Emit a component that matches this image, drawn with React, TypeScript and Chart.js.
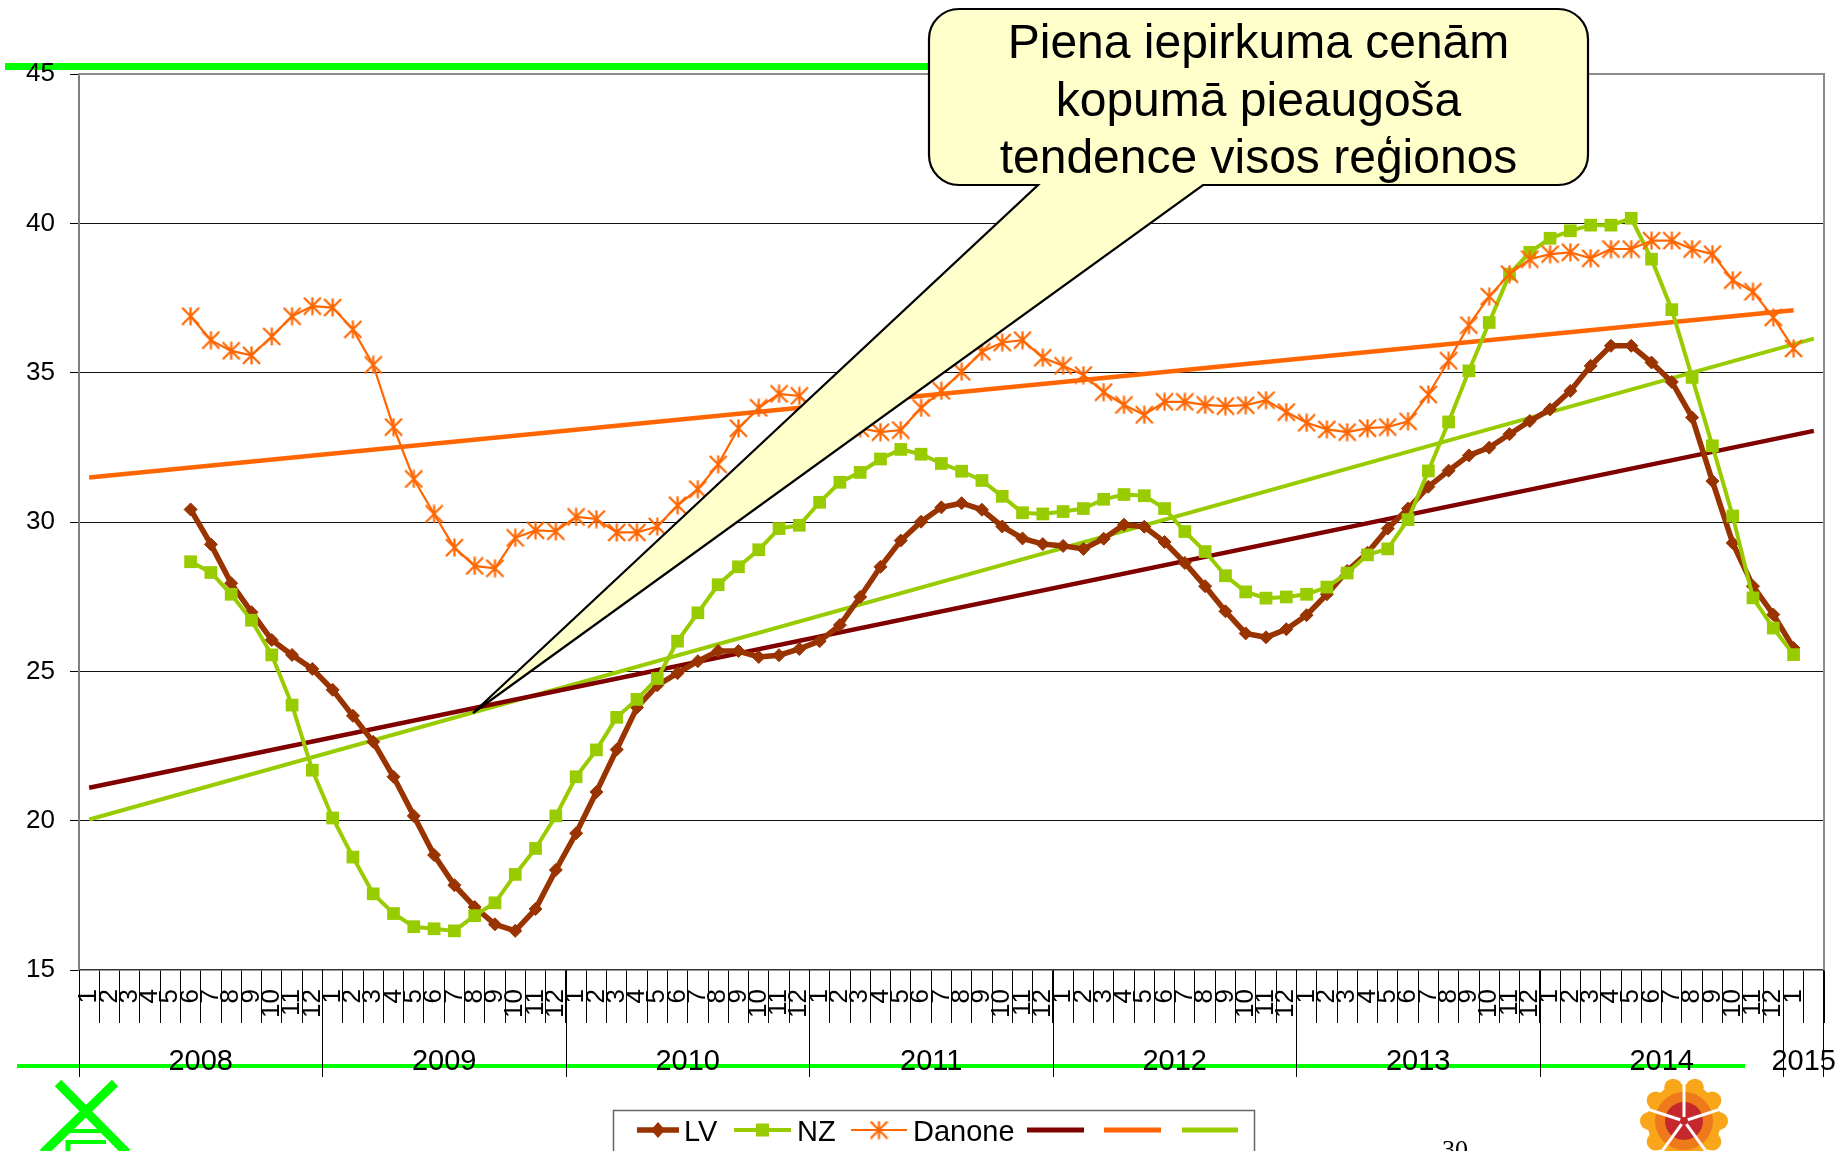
import React, { useEffect, useRef } from 'react';
import { Chart, registerables } from 'chart.js';

Chart.register(...registerables);

const FONT = '"Liberation Sans", Arial, Helvetica, sans-serif';
const W = 1837;
const H = 1151;

// ---- categories / tick labels ----
const years = ['2008', '2009', '2010', '2011', '2012', '2013', '2014', '2015'];
const yearMonthCounts = [12, 12, 12, 12, 12, 12, 12, 2];
const monthNames = ['1', '2', '3', '4', '5', '6', '7', '8', '9', '10', '11', '12'];
const months: string[] = [];
for (let y = 0; y < 7; y++) months.push(...monthNames);
months.push('1', '');

// ---- series values (2008-01 .. 2015-02) ----
const lv: (number | null)[] = [
  null, null, null, null, null,
  30.42, 29.25, 27.95, 26.98, 26.05, 25.55, 25.08, 24.38, 23.51, 22.64,
  21.47, 20.16, 18.85, 17.84, 17.11, 16.53, 16.31, 17.04, 18.35, 19.58,
  20.96, 22.38, 23.79, 24.53, 24.94, 25.34, 25.68, 25.68, 25.48, 25.54,
  25.75, 26.01, 26.55, 27.49, 28.5, 29.38, 30.01, 30.49, 30.63, 30.41,
  29.85, 29.45, 29.26, 29.2, 29.1, 29.44, 29.91, 29.84, 29.33, 28.63,
  27.85, 27.01, 26.27, 26.14, 26.41, 26.88, 27.58, 28.36, 28.97, 29.78,
  30.45, 31.18, 31.72, 32.23, 32.49, 32.94, 33.38, 33.77, 34.39, 35.23,
  35.9, 35.9, 35.34, 34.69, 33.5, 31.37, 29.3, 27.85, 26.9, 25.78,
  null,
];
const nz: (number | null)[] = [
  null, null, null, null, null,
  28.67, 28.31, 27.58, 26.71, 25.55, 23.87, 21.69, 20.09, 18.78, 17.55,
  16.89, 16.45, 16.38, 16.31, 16.82, 17.25, 18.2, 19.07, 20.16, 21.47,
  22.37, 23.46, 24.06, 24.76, 26.01, 26.96, 27.9, 28.5, 29.07, 29.78,
  29.89, 30.66, 31.33, 31.66, 32.11, 32.43, 32.27, 31.96, 31.7, 31.39,
  30.86, 30.31, 30.27, 30.35, 30.45, 30.76, 30.92, 30.88, 30.45, 29.68,
  29.01, 28.2, 27.66, 27.45, 27.49, 27.58, 27.82, 28.29, 28.9, 29.1,
  30.08, 31.71, 33.35, 35.06, 36.68, 38.3, 39.03, 39.5, 39.75, 39.94,
  39.94, 40.17, 38.8, 37.11, 34.84, 32.55, 30.2, 27.46, 26.45, 25.56,
  null,
];
const danone: (number | null)[] = [
  null, null, null, null, null,
  36.89, 36.09, 35.73, 35.58, 36.21, 36.89, 37.23, 37.18, 36.45, 35.26,
  33.18, 31.44, 30.27, 29.14, 28.53, 28.45, 29.47, 29.72, 29.69, 30.17,
  30.1, 29.65, 29.65, 29.85, 30.56, 31.1, 31.93, 33.14, 33.82, 34.29,
  34.22, 33.6, 33.3, 33.14, 33.01, 33.08, 33.82, 34.39, 35.03, 35.7,
  36.01, 36.09, 35.5, 35.23, 34.92, 34.35, 33.92, 33.59, 34.02, 34.02,
  33.92, 33.88, 33.91, 34.08, 33.68, 33.32, 33.1, 33.01, 33.14, 33.18,
  33.37, 34.27, 35.4, 36.59, 37.55, 38.3, 38.8, 38.97, 39.03, 38.83,
  39.14, 39.14, 39.42, 39.42, 39.14, 38.97, 38.1, 37.71, 36.85, 35.81,
  null,
];

// ---- linear trend lines: [start, end] values and category indices ----
const lvTrend = [21.1, 33.05];
const lvTrendIdx = [0, 85];
const danoneTrend = [31.49, 37.09];
const danoneTrendIdx = [0, 84];
const nzTrend = [20.04, 36.14];
const nzTrendIdx = [0, 85];

const C_LV = '#993300';
const C_NZ = '#99CC00';
const C_DAN = '#FF6600';
const C_TLV = '#800000';

function trendData(vals: number[], idx: number[]) {
  return months.map((_, i) => (i === idx[0] ? vals[0] : i === idx[1] ? vals[1] : null));
}

function makeStar(color: string, size: number, lw: number) {
  const c = document.createElement('canvas');
  c.width = size;
  c.height = size;
  const g = c.getContext('2d')!;
  g.strokeStyle = color;
  g.lineWidth = lw;
  const m = size / 2;
  const r = size / 2 - 1;
  g.beginPath();
  g.moveTo(m, m - r - 0.5);
  g.lineTo(m, m + r + 0.5);
  g.moveTo(m - r, m - r);
  g.lineTo(m + r, m + r);
  g.moveTo(m + r, m - r);
  g.lineTo(m - r, m + r);
  g.stroke();
  return c;
}

export default function App() {
  const ref = useRef<HTMLCanvasElement>(null);

  useEffect(() => {
    const canvas = ref.current!;
    const star = makeStar(C_DAN, 19, 2.2);

    const decor = {
      id: 'decor',
      beforeDraw(chart: any) {
        const ctx = chart.ctx;
        ctx.save();
        ctx.fillStyle = '#00FF00';
        ctx.fillRect(5, 63, 1000, 7);
        ctx.fillRect(17, 1064, 1728, 4);
        ctx.restore();
      },
      afterDraw(chart: any) {
        const ctx = chart.ctx as CanvasRenderingContext2D;
        const area = chart.chartArea;
        const xs = chart.scales.x;
        const cw = (area.right - area.left) / months.length;
        const bound = (i: number) => xs.getPixelForValue(i) - cw / 2;
        ctx.save();

        // plot border top / right
        ctx.strokeStyle = '#8c8c8c';
        ctx.lineWidth = 2;
        ctx.beginPath();
        ctx.moveTo(area.left, area.top);
        ctx.lineTo(area.right, area.top);
        ctx.lineTo(area.right, area.bottom);
        ctx.stroke();

        // year separators and labels
        ctx.strokeStyle = '#000';
        ctx.lineWidth = 1;
        let start = 0;
        ctx.font = `29px ${FONT}`;
        ctx.fillStyle = '#000';
        ctx.textAlign = 'center';
        ctx.textBaseline = 'alphabetic';
        years.forEach((yr, k) => {
          const x0 = bound(start);
          const end = start + yearMonthCounts[k];
          const x1 = end >= months.length ? area.right : bound(end);
          ctx.beginPath();
          ctx.moveTo(Math.round(x0) + 0.5, area.bottom);
          ctx.lineTo(Math.round(x0) + 0.5, 1077);
          ctx.stroke();
          if (end >= months.length) {
            ctx.beginPath();
            ctx.moveTo(Math.round(x1) - 0.5, area.bottom);
            ctx.lineTo(Math.round(x1) - 0.5, 1077);
            ctx.stroke();
          }
          ctx.fillText(yr, (x0 + x1) / 2, 1070);
          start = end;
        });

        // legend
        const ly = 1130;
        ctx.fillStyle = '#fff';
        ctx.fillRect(613, 1110, 642, 60);
        ctx.strokeStyle = '#666';
        ctx.lineWidth = 1.5;
        ctx.strokeRect(613.5, 1110.5, 641, 60);
        const seg = (x0: number, x1: number, color: string, lw: number) => {
          ctx.strokeStyle = color;
          ctx.lineWidth = lw;
          ctx.beginPath();
          ctx.moveTo(x0, ly);
          ctx.lineTo(x1, ly);
          ctx.stroke();
        };
        seg(637, 679, C_LV, 5.5);
        ctx.fillStyle = C_LV;
        ctx.beginPath();
        ctx.moveTo(658, ly - 8);
        ctx.lineTo(665, ly);
        ctx.lineTo(658, ly + 8);
        ctx.lineTo(651, ly);
        ctx.closePath();
        ctx.fill();
        seg(734, 791, C_NZ, 4);
        ctx.fillStyle = C_NZ;
        ctx.fillRect(756, ly - 6.5, 13, 13);
        seg(851, 907, C_DAN, 2.2);
        ctx.drawImage(star, 879 - 9.5, ly - 9.5);
        seg(1027, 1084, C_TLV, 5);
        seg(1104, 1161, C_DAN, 5);
        seg(1182, 1238, C_NZ, 5);
        ctx.fillStyle = '#000';
        ctx.font = `29px ${FONT}`;
        ctx.textAlign = 'left';
        ctx.textBaseline = 'alphabetic';
        ctx.fillText('LV', 684, 1141);
        ctx.fillText('NZ', 797, 1141);
        ctx.fillText('Danone', 913, 1141);

        // green logo (bottom left)
        ctx.strokeStyle = '#00FF00';
        ctx.lineCap = 'butt';
        ctx.lineWidth = 9;
        ctx.beginPath();
        ctx.moveTo(58, 1083);
        ctx.lineTo(127, 1153);
        ctx.moveTo(115, 1083);
        ctx.lineTo(43, 1153);
        ctx.stroke();
        ctx.lineWidth = 4;
        ctx.beginPath();
        ctx.moveTo(66, 1131);
        ctx.lineTo(108, 1131);
        ctx.moveTo(68, 1142);
        ctx.lineTo(106, 1142);
        ctx.stroke();
        ctx.lineWidth = 5;
        ctx.beginPath();
        ctx.moveTo(68, 1140);
        ctx.lineTo(68, 1152);
        ctx.stroke();

        // orange logo (bottom right)
        const cx = 1684, cy = 1121;
        ctx.fillStyle = '#F9A61A';
        for (let k = 0; k < 10; k++) {
          const a = -Math.PI / 2 + (k * Math.PI) / 5 + Math.PI / 10;
          ctx.beginPath();
          ctx.arc(cx + Math.cos(a) * 35, cy + Math.sin(a) * 35, 9, 0, Math.PI * 2);
          ctx.fill();
        }
        ctx.beginPath();
        ctx.arc(cx, cy, 37, 0, Math.PI * 2);
        ctx.fill();
        ctx.fillStyle = '#EE7A1C';
        ctx.beginPath();
        ctx.arc(cx, cy, 29, 0, Math.PI * 2);
        ctx.fill();
        ctx.fillStyle = '#C4282C';
        ctx.beginPath();
        ctx.arc(cx, cy, 19, 0, Math.PI * 2);
        ctx.fill();
        ctx.strokeStyle = '#fff';
        ctx.lineWidth = 3;
        for (let k = 0; k < 5; k++) {
          const a = -Math.PI / 2 + (k * 2 * Math.PI) / 5;
          ctx.beginPath();
          ctx.moveTo(cx + Math.cos(a) * 4, cy + Math.sin(a) * 4);
          ctx.lineTo(cx + Math.cos(a) * 40, cy + Math.sin(a) * 40);
          ctx.stroke();
        }

        // page number
        ctx.fillStyle = '#000';
        ctx.font = '26px "Liberation Serif", "Times New Roman", serif';
        ctx.textAlign = 'left';
        ctx.fillText('30', 1442, 1158);

        // callout
        const bx0 = 929, by0 = 9, bx1 = 1588, by1 = 185, r = 30;
        const tip = { x: 473, y: 713 };
        ctx.beginPath();
        ctx.moveTo(bx0 + r, by0);
        ctx.lineTo(bx1 - r, by0);
        ctx.arcTo(bx1, by0, bx1, by0 + r, r);
        ctx.lineTo(bx1, by1 - r);
        ctx.arcTo(bx1, by1, bx1 - r, by1, r);
        ctx.lineTo(1203, by1);
        ctx.lineTo(tip.x, tip.y);
        ctx.lineTo(1038, by1);
        ctx.lineTo(bx0 + r, by1);
        ctx.arcTo(bx0, by1, bx0, by1 - r, r);
        ctx.lineTo(bx0, by0 + r);
        ctx.arcTo(bx0, by0, bx0 + r, by0, r);
        ctx.closePath();
        ctx.fillStyle = '#FFFFCC';
        ctx.fill();
        ctx.strokeStyle = '#000';
        ctx.lineWidth = 2.2;
        ctx.lineJoin = 'miter';
        ctx.stroke();
        ctx.fillStyle = '#000';
        ctx.font = `48px ${FONT}`;
        ctx.textAlign = 'center';
        ctx.textBaseline = 'alphabetic';
        const tcx = (bx0 + bx1) / 2;
        ctx.fillText('Piena iepirkuma cenām', tcx, 58);
        ctx.fillText('kopumā pieaugoša', tcx, 116);
        ctx.fillText('tendence visos reģionos', tcx, 173);

        ctx.restore();
      },
    };

    const chart = new Chart(canvas, {
      type: 'line',
      data: {
        labels: months,
        datasets: [
          {
            label: 'LV', data: lv, borderColor: C_LV, backgroundColor: C_LV,
            borderWidth: 5.5, pointStyle: 'rectRot', pointRadius: 6.5,
            pointBorderWidth: 1, pointBorderColor: C_LV, pointBackgroundColor: C_LV,
            tension: 0, order: 3,
          },
          {
            label: 'NZ', data: nz, borderColor: C_NZ, backgroundColor: C_NZ,
            borderWidth: 4, pointStyle: 'rect', pointRadius: 9,
            pointBorderWidth: 0, pointBackgroundColor: C_NZ,
            tension: 0, order: 2,
          },
          {
            label: 'Danone', data: danone, borderColor: C_DAN, backgroundColor: C_DAN,
            borderWidth: 2.2, pointStyle: star as any, pointRadius: 9,
            tension: 0, order: 1,
          },
          {
            label: 'LV trend', data: trendData(lvTrend, lvTrendIdx), borderColor: C_TLV,
            borderWidth: 4.5, pointRadius: 0, spanGaps: true, order: 4,
          },
          {
            label: 'Danone trend', data: trendData(danoneTrend, danoneTrendIdx), borderColor: C_DAN,
            borderWidth: 4.5, pointRadius: 0, spanGaps: true, order: 5,
          },
          {
            label: 'NZ trend', data: trendData(nzTrend, nzTrendIdx), borderColor: C_NZ,
            borderWidth: 4, pointRadius: 0, spanGaps: true, order: 6,
          },
        ],
      },
      options: {
        responsive: false,
        animation: false,
        devicePixelRatio: 1,
        layout: { padding: { left: 0, right: 13, top: 74, bottom: 0 } },
        plugins: { legend: { display: false }, tooltip: { enabled: false } },
        scales: {
          x: {
            type: 'category',
            offset: true,
            grid: {
              display: true, offset: true, drawOnChartArea: false, drawTicks: true,
              tickLength: 53, color: '#000', lineWidth: 1,
            },
            border: { display: true, color: '#333', width: 1.5 },
            ticks: {
              autoSkip: false, maxRotation: 90, minRotation: 90, padding: -34,
              color: '#000', font: { size: 26, family: FONT },
            },
            afterFit: (s: any) => { s.height = 181; },
          },
          y: {
            min: 15, max: 45,
            ticks: { stepSize: 5, padding: 15, color: '#000', font: { size: 26, family: FONT } },
            grid: {
              color: (c: any) => (c.tick && (c.tick.value === 45 || c.tick.value === 15) ? 'rgba(0,0,0,0)' : '#111'),
              lineWidth: 1, tickLength: 9, tickColor: '#000', drawTicks: true,
            },
            border: { display: true, color: '#7f7f7f', width: 2 },
            afterFit: (s: any) => { s.width = 79; },
          },
        },
      },
      plugins: [decor],
    } as any);

    return () => chart.destroy();
  }, []);

  return (
    <div style={{ position: 'absolute', left: 0, top: 0, width: W, height: H, overflow: 'hidden' }}>
      <canvas ref={ref} width={W} height={H} style={{ display: 'block', width: W, height: H }} />
    </div>
  );
}
